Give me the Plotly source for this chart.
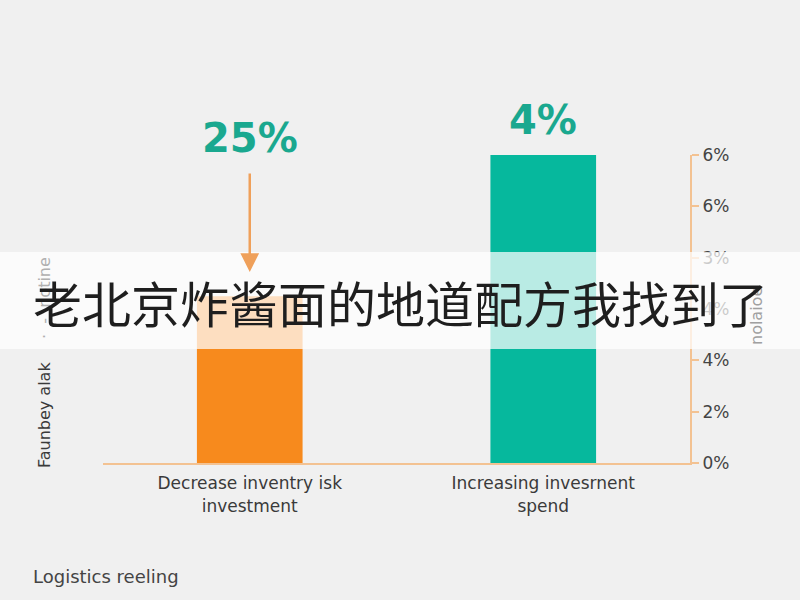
import plotly.graph_objects as go

categories = ["Decrease inventry isk<br>investment", "Increasing invesrnent<br>spend"]
values = [3.25, 6.0]
bar_colors = ["#f78a1d", "#06b89d"]
bar_labels = ["25%", "4%"]
tick_vals = [0, 1, 2, 3, 4, 5, 6]
tick_text = ["0%", "2%", "4%", "4%", "3%", "6%", "6%"]
left_title_a = "Faunbey alak"
left_title_b = "·  -  notine"
right_title = "nolaioe"
footer = "Logistics reeling"
banner = "老北京炸酱面的地道配方我找到了"

BG = "#f0f0f0"
ORANGE_LINE = "#f3c292"
TEAL_TXT = "#1aa88f"
FONT = "DejaVu Sans, sans-serif"

L, R, T, B = 103, 110, 155, 137
PW, PH = 800 - L - R, 600 - T - B


def px(xp):
    return (xp - L) / PW


def py(yp):
    return (600 - B - yp) / PH


fig = go.Figure()
fig.add_trace(go.Bar(
    x=categories, y=values, marker=dict(color=bar_colors, line=dict(width=0)),
    width=0.36, hoverinfo="skip",
))

fig.update_layout(
    width=800, height=600,
    paper_bgcolor=BG, plot_bgcolor=BG,
    margin=dict(l=L, r=R, t=T, b=B),
    showlegend=False,
    font=dict(family=FONT, color="#333"),
    xaxis=dict(
        range=[-0.5, 1.5], showgrid=False, zeroline=False,
        showline=True, linecolor=ORANGE_LINE, linewidth=2,
        ticks="", tickfont=dict(size=17, color="#3a3a3a"),
        ticklabelstandoff=4,
    ),
    yaxis=dict(
        range=[0, 6], side="right", showgrid=False, zeroline=False,
        showline=True, linecolor=ORANGE_LINE, linewidth=2,
        ticks="outside", ticklen=7, tickcolor=ORANGE_LINE, tickwidth=1.5,
        tickvals=tick_vals, ticktext=tick_text,
        tickfont=dict(size=17, color="#444"),
    ),
)

# value labels
fig.add_annotation(x=categories[0], y=py(138), xref="x", yref="paper",
                   text="<b>" + bar_labels[0] + "</b>", showarrow=False,
                   xanchor="center", yanchor="middle",
                   font=dict(size=40, color=TEAL_TXT, family=FONT))
fig.add_annotation(x=categories[1], y=py(120), xref="x", yref="paper",
                   text="<b>" + bar_labels[1] + "</b>", showarrow=False,
                   xanchor="center", yanchor="middle",
                   font=dict(size=40, color=TEAL_TXT, family=FONT))

# arrow from label down toward orange bar
fig.add_annotation(x=categories[0], y=py(272), xref="x", yref="paper",
                   ax=0, ay=-100, axref="pixel", ayref="pixel",
                   text="", showarrow=True, arrowhead=2, arrowsize=1.5,
                   arrowwidth=2.5, arrowcolor="#efa05a")

# axis titles
fig.add_annotation(x=px(44), y=py(415), xref="paper", yref="paper",
                   text=left_title_a, textangle=-90, showarrow=False,
                   xanchor="center", yanchor="middle",
                   font=dict(size=16, color="#3a3a3a"))
fig.add_annotation(x=px(44), y=py(298), xref="paper", yref="paper",
                   text=left_title_b, textangle=-90, showarrow=False,
                   xanchor="center", yanchor="middle",
                   font=dict(size=16, color="#b0b0b0"))
fig.add_annotation(x=px(756), y=py(316), xref="paper", yref="paper",
                   text=right_title, textangle=-90, showarrow=False,
                   xanchor="center", yanchor="middle",
                   font=dict(size=16, color="#a0a0a0"))

# footer
fig.add_annotation(x=px(31), y=py(576), xref="paper", yref="paper", text=footer,
                   showarrow=False, xanchor="left", yanchor="middle",
                   font=dict(size=18, color="#444"))

# banner overlay
fig.add_shape(type="rect", xref="paper", yref="paper",
              x0=px(0), x1=px(800), y0=py(349), y1=py(252),
              fillcolor="rgba(255,255,255,0.72)", line=dict(width=0), layer="above")
fig.add_annotation(x=px(401), y=py(301), xref="paper", yref="paper",
                   text=banner, showarrow=False, xanchor="center", yanchor="middle",
                   font=dict(size=49, color="#1e1e1e", family="Noto Sans CJK SC"))

fig.write_html("out.html", config={"displayModeBar": False},
               post_script="document.body.style.margin='0';document.body.style.background='%s';" % BG)
